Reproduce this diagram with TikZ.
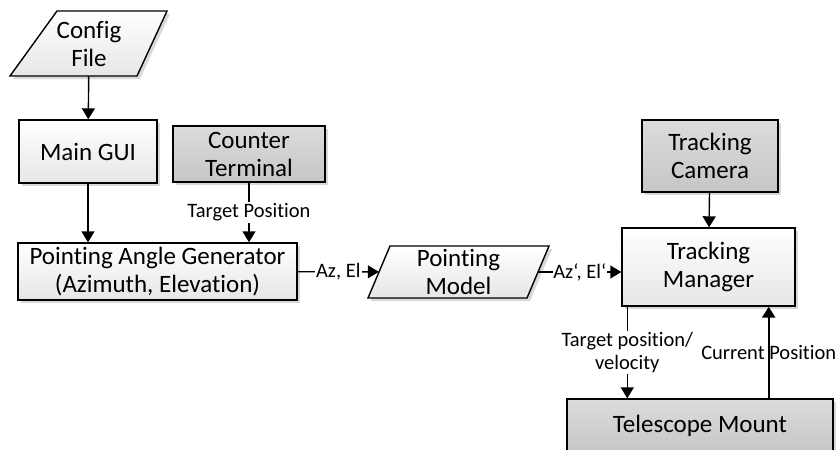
\documentclass[tikz,border=0pt]{standalone}
\usepackage{fontspec}
\setmainfont{Carlito}[Ligatures={NoCommon}]
\usepackage{xcolor}
\usepackage{tikz}
\usetikzlibrary{arrows.meta, shadows}
\definecolor{boxlight}{HTML}{E6E6E6}
\definecolor{boxgraytop}{HTML}{DCDCDC}
\definecolor{boxgray}{HTML}{C6C6C6}

\begin{document}
\begin{tikzpicture}[x=1pt, y=-1pt,
  shd/.style={drop shadow={shadow xshift=3pt, shadow yshift=-3pt, fill=black!30}},
  blk/.style={draw=black, line width=1.4pt, top color=white, bottom color=boxlight, shd,
    inner sep=0pt, align=center, font=\fontsize{25}{28}\selectfont},
  gblk/.style={blk, top color=boxgraytop, bottom color=boxgray},
  datashp/.style={draw=black, line width=1.4pt, top color=white, bottom color=boxlight, shd},
  txt/.style={inner sep=0pt, align=center, font=\fontsize{25}{28}\selectfont},
  lbl/.style={fill=white, inner sep=1.5pt, align=center, font=\fontsize{20.5}{23}\selectfont},
  arr/.style={line width=1.4pt, -{Triangle[length=11pt, width=13pt]}},
]
\useasboundingbox (0,0) rectangle (839,450);

% data shapes
\path[datashp] (57,11) -- (167,11) -- (137,76) -- (10,76) -- cycle;
\node[txt, minimum width=100pt, minimum height=65pt] (cfg) at (89,43.5) {Config\\File};
\path[datashp] (390,246) -- (549,246) -- (527,298) -- (368,298) -- cycle;
\node[txt, minimum width=159pt, minimum height=52pt] (pmod) at (458.5,272) {Pointing\\Model};

% process boxes
\node[blk, minimum width=138pt, minimum height=63pt] (gui) at (88,151.5) {Main GUI};
\node[gblk, minimum width=152pt, minimum height=56pt] (cterm) at (249,154) {Counter\\Terminal};
\node[blk, minimum width=279pt, minimum height=57pt] (pag) at (157.5,271.5)
  {Pointing Angle Generator\\(Azimuth, Elevation)};
\node[gblk, minimum width=136pt, minimum height=72pt] (tcam) at (710,156) {Tracking\\Camera};
\node[blk, minimum width=173pt, minimum height=78pt] (tman) at (708.5,267) {Tracking\\Manager};
\node[gblk, minimum width=266pt, minimum height=54pt] (mount) at (700,426) {Telescope Mount};

% connectors
\draw[arr] (cfg) -- (gui);
\draw[arr] (gui) -- (gui |- pag.north);
\draw[arr] (cterm) -- node[lbl]{Target Position} (cterm |- pag.north);
\draw[arr] (pag) -- node[lbl]{Az, El} (pmod);
\draw[arr] (pmod) -- node[lbl, inner sep=0.5pt]{Az‘, El‘} (pmod -| tman.west);
\draw[arr] (tcam) -- (tman);
\coordinate (tpa) at ([xshift=6pt]tman.south west);
\coordinate (cpa) at ([xshift=-27pt]tman.south east);
\draw[arr] (tpa) -- node[lbl]{Target position/\\velocity} (tpa |- mount.north);
\draw[arr, line width=2.2pt] (cpa |- mount.north) -- node[lbl, fill=none]{Current Position} (cpa);
\end{tikzpicture}
\end{document}
